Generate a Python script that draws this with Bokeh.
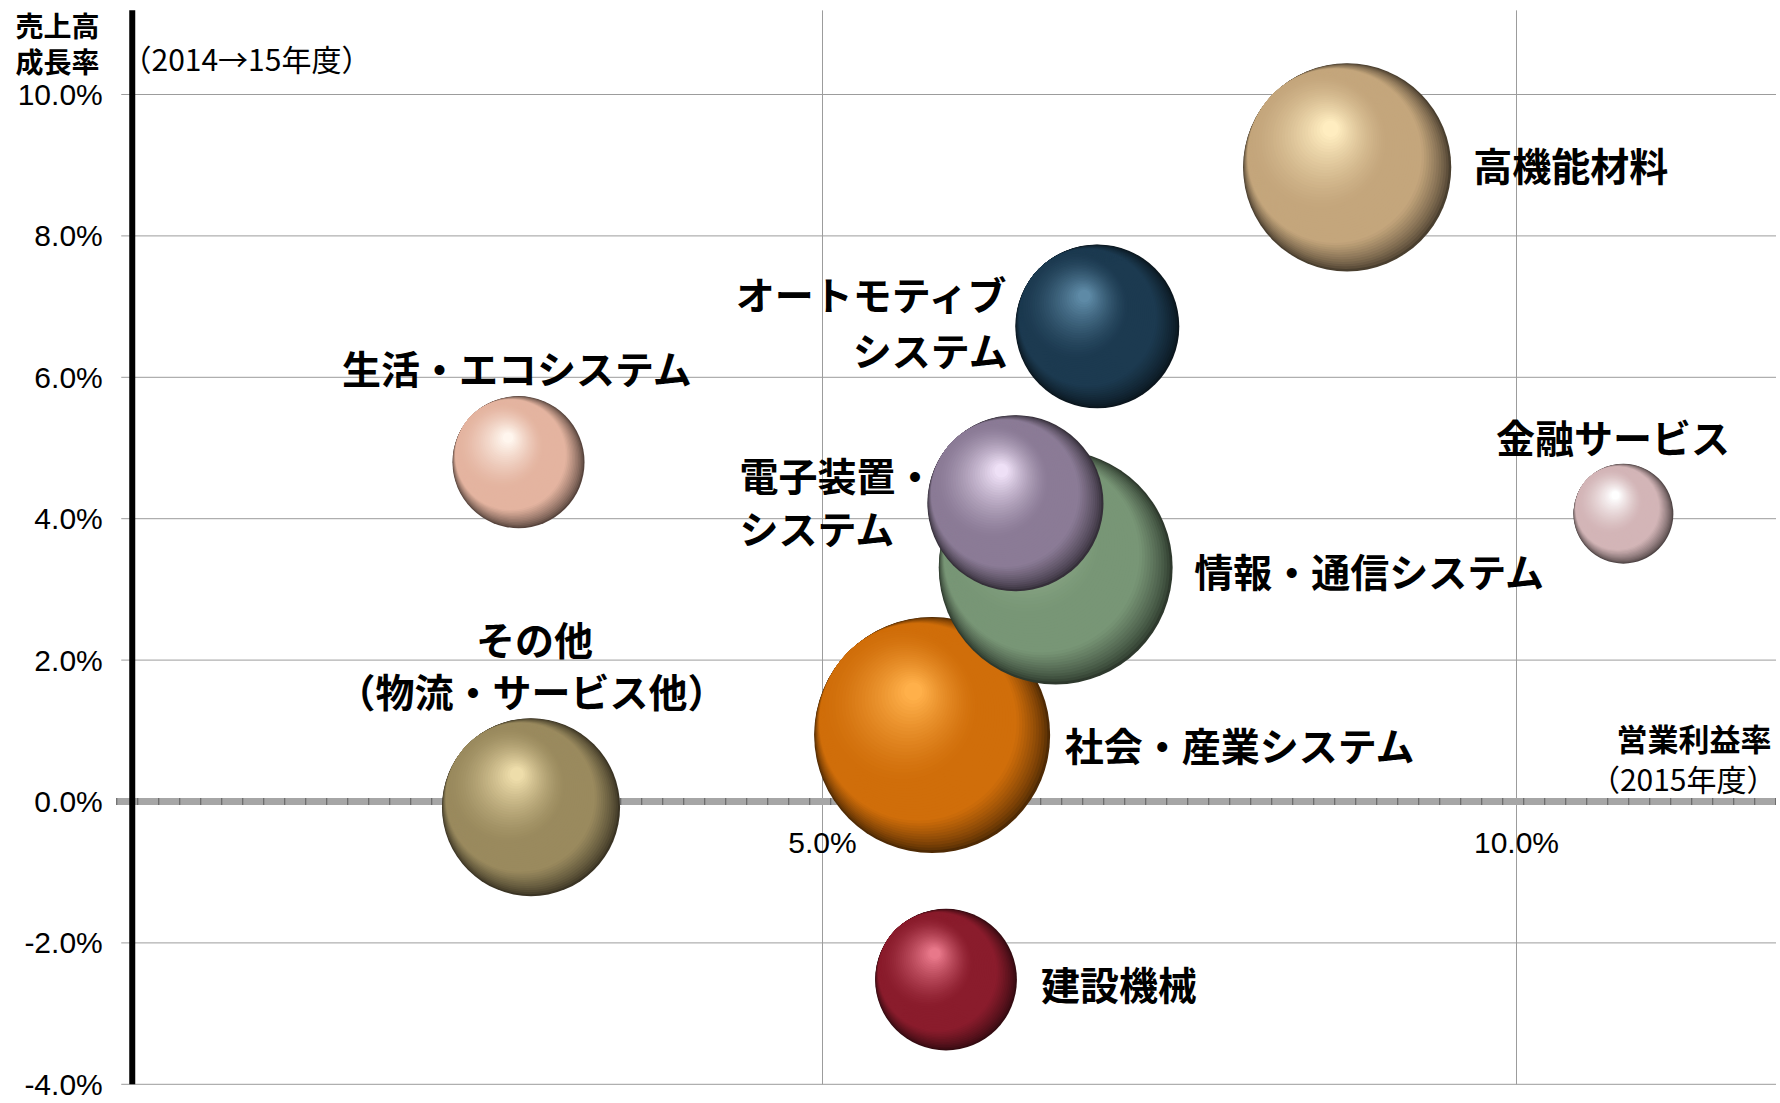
import numpy as np
from bokeh.plotting import figure
from bokeh.models import ColumnDataSource, Label
from bokeh.core.properties import value
from bokeh.embed import file_html
from bokeh.resources import INLINE

# ---------------- data ----------------
segments = ["高機能材料", "オートモティブシステム", "生活・エコシステム", "金融サービス",
            "社会・産業システム", "情報・通信システム", "電子装置・システム", "その他", "建設機械"]
op_margin = [8.78, 6.98, 2.81, 10.77, 5.79, 6.68, 6.39, 2.90, 5.89]        # 営業利益率 (2015年度, %)
sales_growth = [8.97, 6.72, 4.80, 4.07, 0.94, 3.31, 4.22, -0.08, -2.52]    # 売上高成長率 (2014→15年度, %)
revenue = [17900, 11100, 7200, 4130, 23000, 22600, 12800, 13100, 8300]      # bubble size (estimated)

y_ticks = [-4, -2, 0, 2, 4, 6, 8, 10]
y_tick_labels = ["%.1f%%" % v for v in y_ticks]
x_ticks = [5, 10]
x_tick_labels = ["5.0%", "10.0%"]
X_MIN = 0.027          # x axis minimum (where the value axis crosses)
Y_MIN = -4.0
Y_MAX = 11.19

# label lines: (segment index, text, dx px, dy px, align)
label_lines = [
    (0, "高機能材料", 126, -3.5, "left"),
    (1, "オートモティブ", -88.5, -33.5, "right"),
    (1, "システム", -88.5, 22.5, "right"),
    (2, "生活・エコシステム", -1, -95, "center"),
    (3, "金融サービス", -10.5, -78, "center"),
    (4, "社会・産業システム", 132.5, 9, "left"),
    (5, "情報・通信システム", 138.5, 3, "left"),
    (6, "電子装置・", -276, -29.5, "left"),
    (6, "システム", -276, 23.5, "left"),
    (7, "その他", 3.5, -169.5, "center"),
    (7, "（物流・サービス他）", 0.5, -117.5, "center"),
    (8, "建設機械", 95, 3, "left"),
]

# ---------------- styles ----------------
base_colors = ["#C4A67C", "#1C3A50", "#E4B4A0", "#D3B5B7", "#D06E0A",
               "#789676", "#8B7B96", "#9A8A5E", "#8A1C2C"]
hi_colors = ["#FFEDC0", "#5E8AA6", "#FFF6EE", "#FFFFFF", "#FFB04A",
             "#AECAA6", "#EEE0F6", "#EEDDAA", "#E8788A"]
SIZE_K = 0.778          # px radius per sqrt(value)
JP = "Noto Sans CJK JP"
NUM = "Liberation Sans"

W, H = 1776, 1102
PX_X, PX_Y = 138.8, 70.7
X_START = 5 - 822 / PX_X
X_END = X_START + W / PX_X
Y_END = 801.0 / PX_Y
Y_START = Y_END - H / PX_Y


def cx(px):
    return X_START + px / PX_X


def cy(py):
    return Y_END - py / PX_Y


def hex2rgb(h):
    h = h.lstrip("#")
    return np.array([int(h[i:i + 2], 16) for i in (0, 2, 4)], dtype=float)


def rgb2hex(c):
    c = np.clip(np.round(c), 0, 255).astype(int)
    return "#%02x%02x%02x" % tuple(c)


p = figure(width=W, height=H, x_range=(X_START, X_END), y_range=(Y_START, Y_END),
           output_backend="svg", toolbar_location=None,
           x_axis_location=None, y_axis_location=None, min_border=0)
p.outline_line_color = None
p.background_fill_color = "white"
p.border_fill_color = "white"
p.xgrid.visible = False
p.ygrid.visible = False

GRID = "#9c9c9c"
# horizontal grid lines (with short stubs left of the axis)
p.segment(x0=[X_MIN - 11 / PX_X] * len(y_ticks), y0=y_ticks,
          x1=[X_END] * len(y_ticks), y1=y_ticks, line_color=GRID, line_width=1)
# vertical grid lines
p.segment(x0=x_ticks, y0=[Y_MIN] * len(x_ticks), x1=x_ticks, y1=[Y_MAX] * len(x_ticks),
          line_color=GRID, line_width=1)
# zero line (hatched look)
p.segment(x0=[X_MIN - 16 / PX_X], y0=[0], x1=[X_END], y1=[0],
          line_color="#a6a6a6", line_width=7)
p.segment(x0=[X_MIN - 16 / PX_X], y0=[0], x1=[X_END], y1=[0],
          line_color="#5c5c5c", line_width=7, line_dash="1 20")
# value axis line
p.segment(x0=[X_MIN], y0=[Y_MIN], x1=[X_MIN], y1=[Y_MAX],
          line_color="#000000", line_width=6, line_cap="butt")

# y tick labels
p.text(x=[X_MIN] * len(y_ticks), y=y_ticks, text=y_tick_labels, x_offset=-29.5,
       text_align="right", text_baseline="middle", text_font=value(NUM),
       text_font_size="30px", text_color="#000000")
# x tick labels along zero line
p.text(x=x_ticks, y=[0] * len(x_ticks), text=x_tick_labels, text_align="center",
       text_baseline="middle", y_offset=41, text_font=value(NUM),
       text_font_size="30px", text_color="#000000")

# bubbles as shaded spheres (stacked circles, screen-px offsets)
P1 = np.array([-0.26, -0.24])   # end of terminator phase (fraction of R)
HL = np.array([-0.16, -0.37])   # highlight centre (fraction of R)
N1, N2 = 26, 24
for i in range(len(segments)):
    R = SIZE_K * np.sqrt(revenue[i])
    base = hex2rgb(base_colors[i])
    hi = hex2rgb(hi_colors[i])
    dark = base * 0.38
    c1 = np.array([0.0, 0.0])
    r0 = R
    layers = [(0.0, 0.0, R, dark)]
    p1 = P1 * R
    d1 = np.linalg.norm(p1 - c1)
    r1 = r0 - d1
    for k in range(1, N1 + 1):
        s = k / N1
        cc = c1 + (p1 - c1) * s
        f = min(1.0, s / 0.45) ** 0.75
        layers.append((cc[0], cc[1], r0 - d1 * s, dark + (base - dark) * f))
    hpos = HL * R
    for k in range(1, N2 + 1):
        t = k / N2
        cc = p1 + (hpos - p1) * t
        layers.append((cc[0], cc[1], r1 * (1 - 0.88 * t), base + (hi - base) * t ** 1.4))
    src = ColumnDataSource(dict(
        x=[op_margin[i] + l[0] / PX_X for l in layers],
        y=[sales_growth[i] - l[1] / PX_Y for l in layers],
        d=[2 * l[2] for l in layers],
        c=[rgb2hex(l[3]) for l in layers],
    ))
    p.scatter("x", "y", size="d", marker="circle", fill_color="c",
              line_color=None, source=src)

# bubble labels
for align in ("left", "right", "center"):
    rows = [r for r in label_lines if r[4] == align]
    src = ColumnDataSource(dict(
        x=[op_margin[r[0]] for r in rows],
        y=[sales_growth[r[0]] for r in rows],
        t=[r[1] for r in rows],
        dx=[r[2] for r in rows],
        dy=[r[3] for r in rows],
    ))
    p.text("x", "y", text="t", x_offset="dx", y_offset="dy", source=src,
           text_align=align, text_baseline="middle", text_font=value(JP),
           text_font_style="bold", text_font_size="39px", text_color="#000000")


# axis titles
def add_label(px, py, text, align, size, bold):
    p.add_layout(Label(x=cx(px), y=cy(py), text=text, text_align=align,
                       text_baseline="middle", text_font=JP,
                       text_font_style="bold" if bold else "normal",
                       text_font_size=size, text_color="#000000"))


add_label(57, 24, "売上高", "center", "28px", True)
add_label(57, 60, "成長率", "center", "28px", True)
add_label(121, 57, "（2014→15年度）", "left", "30px", False)
add_label(1771, 737, "営業利益率", "right", "31px", True)
add_label(1776, 777, "（2015年度）", "right", "30px", False)

open("out.html", "w").write(file_html(p, INLINE))
